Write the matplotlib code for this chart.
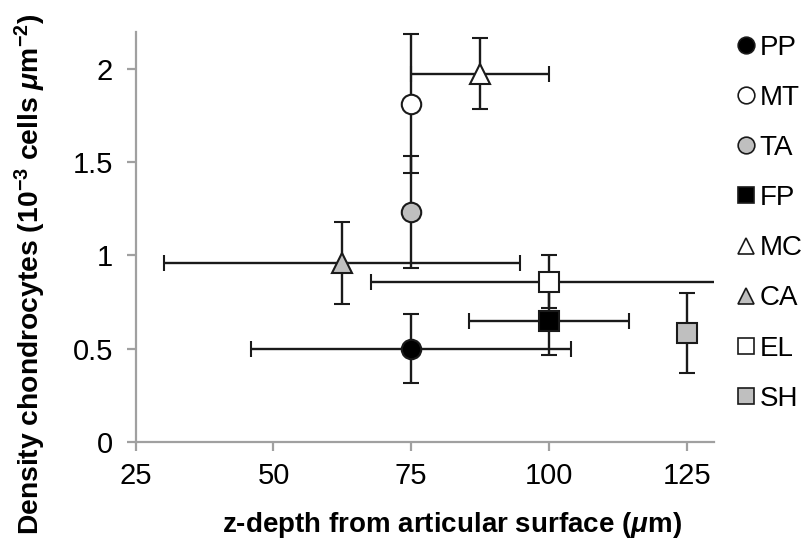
import matplotlib
matplotlib.use('Agg')
import matplotlib.pyplot as plt
from matplotlib.lines import Line2D
from matplotlib.ticker import FuncFormatter

plt.rcParams['font.family'] = ['Liberation Sans', 'DejaVu Sans']
plt.rcParams['mathtext.fontset'] = 'custom'
plt.rcParams['mathtext.rm'] = 'Liberation Sans:bold'
plt.rcParams['mathtext.it'] = 'Liberation Sans:italic:bold'
plt.rcParams['mathtext.bf'] = 'Liberation Sans:bold'

# data
labels = ['PP', 'MT', 'TA', 'FP', 'MC', 'CA', 'EL', 'SH']
depth = [75, 75, 75, 100, 87.5, 62.5, 100, 125]
depth_err = [29, 0, 0, 14.5, 12.5, 32.3, 32.3, 0]
density = [0.50, 1.815, 1.235, 0.65, 1.975, 0.96, 0.86, 0.585]
density_err = [0.185, 0.375, 0.30, 0.185, 0.19, 0.22, 0.14, 0.215]
markers = ['o', 'o', 'o', 's', '^', '^', 's', 's']
fills = ['black', 'white', '#bfbfbf', 'black', 'white', '#bfbfbf', 'white', '#bfbfbf']

fig = plt.figure(figsize=(8.08, 5.47), dpi=100)
ax = fig.add_axes([0.168, 0.192, 0.716, 0.750])

# draw order so markers sit on top of other bars
order = [0, 3, 6, 7, 5, 2, 1, 4]
for i in order:
    ax.errorbar(depth[i], density[i], xerr=depth_err[i] or None, yerr=density_err[i],
                fmt=markers[i], color='#1a1a1a', mfc=fills[i], mec='#1a1a1a',
                ms=14, mew=1.5, elinewidth=1.7, capsize=6, capthick=1.7, zorder=3)

ax.set_xlim(25, 130)
ax.set_ylim(0, 2.2)
ax.set_xticks([25, 50, 75, 100, 125])
ax.set_yticks([0, 0.5, 1, 1.5, 2])
ax.yaxis.set_major_formatter(FuncFormatter(lambda v, p: f'{v:g}'))

for s in ['top', 'right']:
    ax.spines[s].set_visible(False)
for s in ['left', 'bottom']:
    ax.spines[s].set_color('#a0a0a0')
    ax.spines[s].set_linewidth(1.6)
ax.tick_params(direction='out', length=6.5, width=1.6, color='#a0a0a0',
               labelsize=21)
ax.tick_params(axis='y', pad=10)
ax.tick_params(axis='x', pad=8)

ax.set_xlabel(r'z-depth from articular surface ($\mu$m)', fontsize=20,
              fontweight='bold')
ax.set_ylabel(r'Density chondrocytes (10$^{-3}$ cells $\mu$m$^{-2}$)', fontsize=20.3,
              fontweight='bold')
ax.xaxis.set_label_coords(0.547, -0.165)
ax.yaxis.set_label_coords(-0.152, 0.41)

handles = [Line2D([], [], ls='none', marker=m, mfc=f, mec='#1a1a1a', ms=12, mew=1.2)
           for m, f in zip(markers, fills)]
ax.legend(handles, labels, loc='upper left', bbox_to_anchor=(1.018, 1.02),
          frameon=False, fontsize=20, handlelength=0.7, handletextpad=0.15,
          labelspacing=0.87, borderaxespad=0)

fig.savefig('out.png', dpi=100)
